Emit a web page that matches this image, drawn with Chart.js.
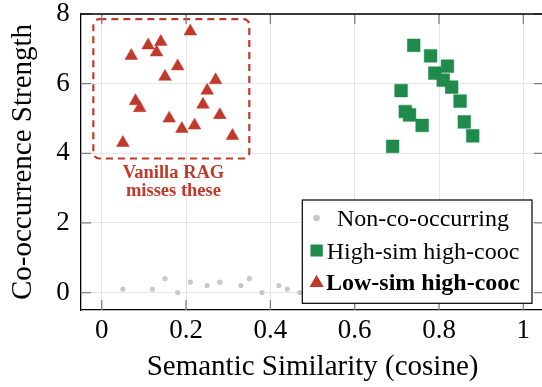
<!DOCTYPE html>
<html>
<head>
<meta charset="utf-8">
<script src="https://cdn.jsdelivr.net/npm/chart.js@4.4.0/dist/chart.umd.min.js"></script>
<style>
  html, body { margin: 0; padding: 0; background: #fff; }
  #wrap { width: 542px; height: 387px; overflow: hidden; }
</style>
</head>
<body>
<div id="wrap"><canvas id="cooc" width="546" height="387"></canvas></div>
<script>
// axis ticks
const xTicks = [0, 0.2, 0.4, 0.6, 0.8, 1];
const yTicks = [0, 2, 4, 6, 8];

// non-co-occurring pairs (gray)
const nonX = [0.05, 0.12, 0.15, 0.18, 0.21, 0.25, 0.28, 0.33, 0.35, 0.38, 0.42, 0.44, 0.47];
const nonY = [0.1, 0.1, 0.4, 0.0, 0.3, 0.2, 0.3, 0.2, 0.4, 0.0, 0.2, 0.1, 0.0];

// high similarity, high co-occurrence (green squares)
const highX = [0.74, 0.78, 0.82, 0.79, 0.81, 0.83, 0.71, 0.85, 0.72, 0.73, 0.86, 0.76, 0.88, 0.69];
const highY = [7.1, 6.8, 6.5, 6.3, 6.1, 5.9, 5.8, 5.5, 5.2, 5.1, 4.9, 4.8, 4.5, 4.2];

// low similarity, high co-occurrence (red triangles)
const lowX = [0.21, 0.11, 0.14, 0.13, 0.07, 0.18, 0.15, 0.27, 0.25, 0.08, 0.09, 0.24, 0.28, 0.16, 0.22, 0.19, 0.31, 0.05];
const lowY = [7.5, 7.1, 7.2, 6.9, 6.8, 6.5, 6.2, 6.1, 5.8, 5.5, 5.3, 5.4, 5.1, 5.0, 4.8, 4.7, 4.5, 4.3];

const seriesNames = ['Non-co-occurring', 'High-sim high-cooc', 'Low-sim high-cooc'];
const noteLines = ['Vanilla RAG', 'misses these'];

const GRAY = '#c8c8c8';
const GREEN = '#1f8a4c';
const RED = '#c0392b';
const FONT = "'Liberation Serif', 'Times New Roman', serif";

Chart.defaults.font.family = FONT;
Chart.defaults.color = '#000';

function toPoints(xs, ys) {
    return xs.map((x, i) => ({ x: x, y: ys[i] }));
}

// dashed box, note, inward ticks, top frame and legend
const decorations = {
    id: 'decorations',
    afterDatasetsDraw(chart) {
        const { ctx, scales: { x, y } } = chart;
        ctx.save();
        // dashed rounded box round the red triangles
        const bx0 = x.getPixelForValue(-0.02), bx1 = x.getPixelForValue(0.35);
        const by0 = y.getPixelForValue(7.85), by1 = y.getPixelForValue(3.85);
        ctx.strokeStyle = RED;
        ctx.lineWidth = 2.2;
        ctx.setLineDash([7, 5]);
        ctx.beginPath();
        ctx.roundRect(bx0, by0, bx1 - bx0, by1 - by0, 6);
        ctx.stroke();
        ctx.setLineDash([]);
        // note under the box
        ctx.fillStyle = RED;
        ctx.font = "bold 18.5px " + FONT;
        ctx.textAlign = 'center';
        ctx.textBaseline = 'alphabetic';
        const nx = x.getPixelForValue(0.17);
        const ny = y.getPixelForValue(3.3);
        noteLines.forEach((t, i) => ctx.fillText(t, nx, ny + i * 18.5));
        ctx.restore();
    },
    afterDraw(chart) {
        const { ctx, chartArea: a, scales: { x, y } } = chart;
        ctx.save();
        // inward tick marks
        ctx.strokeStyle = '#808080';
        ctx.lineWidth = 1.3;
        ctx.beginPath();
        xTicks.forEach(v => {
            const px = x.getPixelForValue(v);
            ctx.moveTo(px, a.bottom); ctx.lineTo(px, a.bottom - 10);
            ctx.moveTo(px, a.top); ctx.lineTo(px, a.top + 10);
        });
        yTicks.forEach(v => {
            const py = y.getPixelForValue(v);
            ctx.moveTo(a.left, py); ctx.lineTo(a.left + 10.5, py);
            ctx.moveTo(a.right, py); ctx.lineTo(a.right - 10.5, py);
        });
        ctx.stroke();
        // frame top / right
        ctx.strokeStyle = '#000';
        ctx.lineWidth = 1.3;
        ctx.beginPath();
        ctx.moveTo(a.left, a.top); ctx.lineTo(a.right, a.top); ctx.lineTo(a.right, a.bottom);
        ctx.stroke();

        // legend in the lower right corner
        const lw = 229.7, lh = 103.3;
        const lx = a.right - 12.4 - lw, ly = a.bottom - 6.7 - lh;
        ctx.fillStyle = '#fff';
        ctx.fillRect(lx, ly, lw, lh);
        ctx.strokeStyle = '#000';
        ctx.lineWidth = 1.2;
        ctx.strokeRect(lx, ly, lw, lh);
        const rows = [18, 50.5, 82];
        const marks = [
            { pointStyle: 'circle', radius: 2.6, color: GRAY },
            { pointStyle: 'rect', radius: 7.8, color: GREEN },
            { pointStyle: 'triangle', radius: 7, color: RED }
        ];
        marks.forEach((m, i) => {
            ctx.fillStyle = m.color;
            ctx.strokeStyle = m.color;
            Chart.helpers.drawPoint(ctx, { pointStyle: m.pointStyle, radius: m.radius, borderWidth: 0.5, rotation: 0 }, lx + 14.3, ly + rows[i] + (i === 2 ? 1 : 0));
        });
        ctx.fillStyle = '#000';
        ctx.textAlign = 'center';
        ctx.textBaseline = 'alphabetic';
        seriesNames.forEach((name, i) => {
            ctx.font = (i === 2 ? 'bold ' : '') + '24px ' + FONT;
            ctx.fillText(name, lx + 120.7, ly + rows[i] + 8);
        });
        ctx.restore();
    }
};

new Chart(document.getElementById('cooc').getContext('2d'), {
    type: 'scatter',
    data: {
        datasets: [
            {
                label: seriesNames[2],
                data: toPoints(lowX, lowY),
                pointStyle: 'triangle',
                pointRadius: 7.3,
                backgroundColor: RED,
                borderColor: RED,
                borderWidth: 0.5
            },
            {
                label: seriesNames[1],
                data: toPoints(highX, highY),
                pointStyle: 'rect',
                pointRadius: 9,
                backgroundColor: GREEN,
                borderColor: GREEN,
                borderWidth: 0.5
            },
            {
                label: seriesNames[0],
                data: toPoints(nonX, nonY),
                pointStyle: 'circle',
                pointRadius: 2.6,
                backgroundColor: GRAY,
                borderColor: GRAY,
                borderWidth: 0
            }
        ]
    },
    options: {
        responsive: false,
        animation: false,
        events: [],
        layout: { autoPadding: false, padding: { top: 14, right: 1.6, bottom: 0, left: 0 } },
        plugins: {
            legend: { display: false },
            tooltip: { enabled: false }
        },
        scales: {
            x: {
                type: 'linear',
                min: -0.05,
                max: 1.05,
                afterBuildTicks: s => { s.ticks = xTicks.map(v => ({ value: v })); },
                afterFit: s => { s.height = 77; s.paddingLeft = 0; s.paddingRight = 0; },
                ticks: { font: { size: 27 }, padding: 5, maxRotation: 0, callback: v => String(v) },
                grid: { color: '#e6e6e6', lineWidth: 1, drawTicks: false },
                border: { color: '#000', width: 1.3 },
                title: { display: true, text: 'Semantic Similarity (cosine)', font: { size: 29 }, padding: { top: 0, bottom: 2.6 } }
            },
            y: {
                type: 'linear',
                min: -0.5,
                max: 8,
                afterBuildTicks: s => { s.ticks = yTicks.map(v => ({ value: v })); },
                afterFit: s => { s.width = 80.7; s.paddingTop = 0; s.paddingBottom = 0; },
                ticks: { font: { size: 27 }, padding: 11, callback: v => String(v) },
                grid: { color: '#e6e6e6', lineWidth: 1, drawTicks: false },
                border: { color: '#000', width: 1.3 },
                title: { display: true, text: 'Co-occurrence Strength', font: { size: 29 }, padding: { top: 5.7, bottom: 0 } }
            }
        }
    },
    plugins: [decorations]
});
</script>
</body>
</html>
